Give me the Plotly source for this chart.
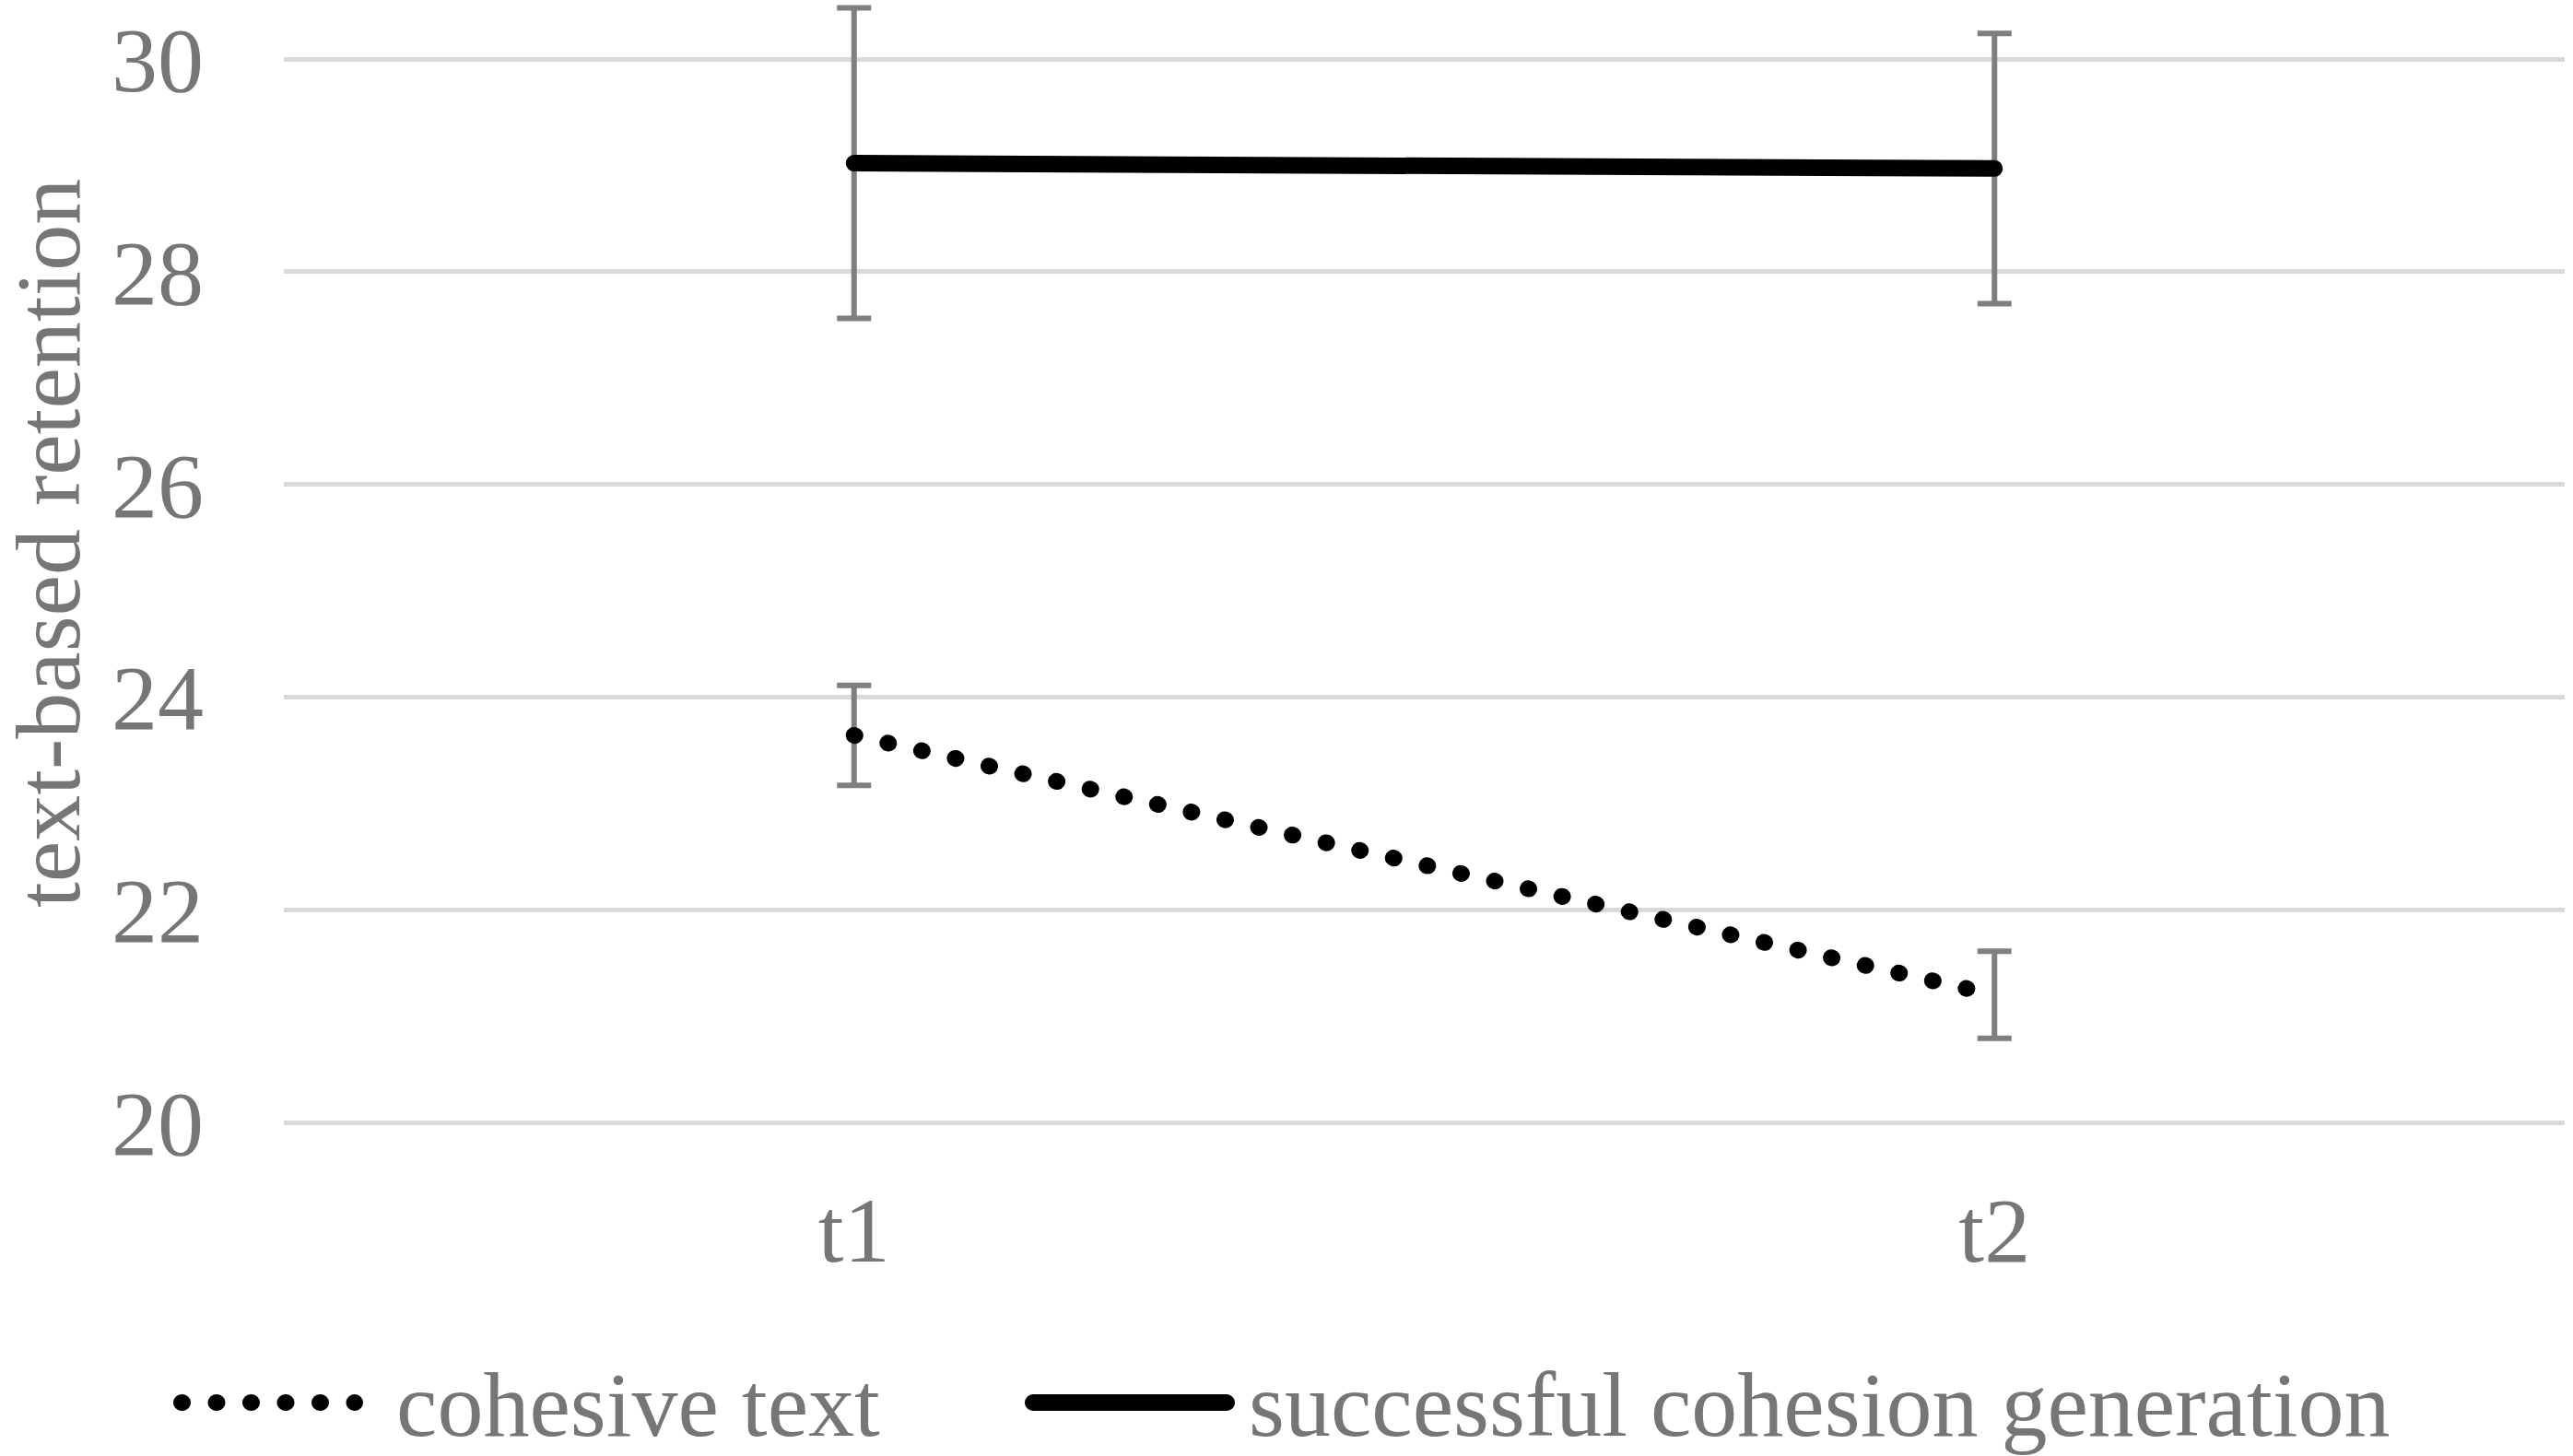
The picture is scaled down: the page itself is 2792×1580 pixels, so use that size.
import plotly.graph_objects as go

# ---- data ----
categories = ["t1", "t2"]
cohesive_text = [23.64, 21.20]
cohesive_err = [0.47, 0.41]
successful_gen = [29.02, 28.97]
successful_err = [1.46, 1.27]
y_ticks = [20, 22, 24, 26, 28, 30]
series_names = ["cohesive text", "successful cohesion generation"]
y_title = "text-based retention"

# ---- layout constants ----
W, H = 2792, 1580
L, R, T, B = 308, 9, 5, 360
FONT = "Liberation Serif, Times New Roman, serif"
GREY = "#767676"
ERR = "#7f7f7f"
GRID = "#d9d9d9"
PPU = 115.4  # pixels per y unit

pw = W - L - R
ph = H - T - B


def px_x(px):
    return (px - L) / pw


def px_y(py):
    return (H - B - py) / ph


DOT = "1px,36.5px"

fig = go.Figure()

# error bars first (drawn under the lines)
fig.add_trace(go.Scatter(
    x=categories, y=cohesive_text, mode="markers",
    marker=dict(size=1, opacity=0), showlegend=False, hoverinfo="skip",
    error_y=dict(type="data", array=cohesive_err, symmetric=True,
                 color=ERR, thickness=6, width=18.5),
    cliponaxis=False,
))
fig.add_trace(go.Scatter(
    x=categories, y=successful_gen, mode="markers",
    marker=dict(size=1, opacity=0), showlegend=False, hoverinfo="skip",
    error_y=dict(type="data", array=successful_err, symmetric=True,
                 color=ERR, thickness=6, width=18.5),
    cliponaxis=False,
))

# lines
fig.add_trace(go.Scatter(
    x=categories, y=cohesive_text, mode="lines", name=series_names[0],
    line=dict(color="black", width=18, dash=DOT),
    showlegend=False, cliponaxis=False,
))
fig.add_trace(go.Scatter(
    x=categories, y=successful_gen, mode="lines", name=series_names[1],
    line=dict(color="black", width=18),
    showlegend=False, cliponaxis=False,
))

# custom legend (long line samples as in the original)
leg_y = px_y(1522)
fig.add_shape(type="line", xref="paper", yref="paper",
              x0=px_x(197), x1=px_x(385), y0=leg_y, y1=leg_y,
              line=dict(color="black", width=18, dash=DOT))
fig.add_shape(type="line", xref="paper", yref="paper",
              x0=px_x(1121), x1=px_x(1331), y0=leg_y, y1=leg_y,
              line=dict(color="black", width=18))
fig.add_annotation(xref="paper", yref="paper", x=px_x(428), y=px_y(1524),
                   xanchor="left", yanchor="middle", showarrow=False,
                   text=series_names[0], font=dict(family=FONT, size=100, color=GREY))
fig.add_annotation(xref="paper", yref="paper", x=px_x(1353), y=px_y(1524),
                   xanchor="left", yanchor="middle", showarrow=False,
                   text=series_names[1], font=dict(family=FONT, size=100, color=GREY))

# y-axis title
fig.add_annotation(xref="paper", yref="paper", x=px_x(52), y=px_y(590),
                   xanchor="center", yanchor="middle", showarrow=False,
                   textangle=-90, text=y_title,
                   font=dict(family=FONT, size=100, color=GREY))

fig.update_layout(
    width=W, height=H,
    margin=dict(l=L, r=R, t=T, b=B, pad=0),
    paper_bgcolor="white", plot_bgcolor="white",
    font=dict(family=FONT, size=100, color=GREY),
    showlegend=False,
    xaxis=dict(type="category", range=[-0.5, 1.5], showgrid=False,
               showline=False, zeroline=False, ticks="",
               tickfont=dict(family=FONT, size=100, color=GREY),
               ticklabelstandoff=48),
    yaxis=dict(range=[20 - 2 / PPU, 30 + (64 - T) / PPU], tickvals=y_ticks,
               showgrid=True, gridcolor=GRID, gridwidth=5,
               showline=False, zeroline=False, ticks="",
               tickfont=dict(family=FONT, size=100, color=GREY),
               ticklabelstandoff=86),
)

post = """
document.body.style.margin = '0';
document.body.style.padding = '0';
var gd = document.getElementById('{plot_id}');
gd.querySelectorAll('.scatterlayer .js-line, .shapelayer path').forEach(function(p){
  p.style.strokeLinecap = 'round';
});
"""

fig.write_html("out.html", post_script=post, config={"displayModeBar": False})
